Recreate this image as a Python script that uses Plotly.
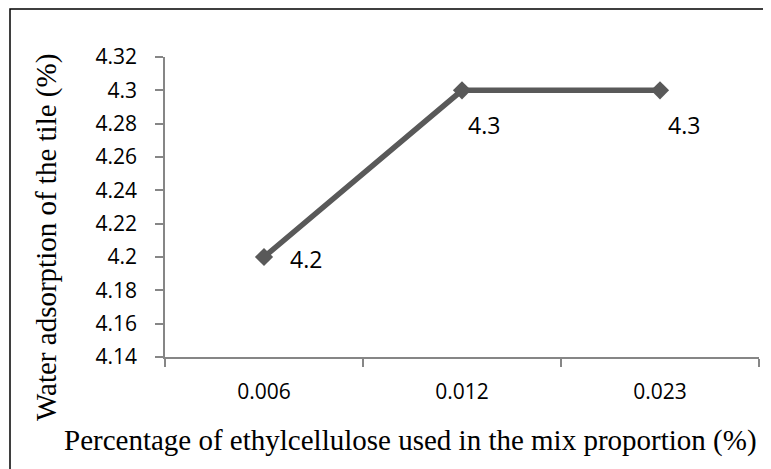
import plotly.graph_objects as go

categories = ["0.006", "0.012", "0.023"]
water_adsorption = [4.2, 4.3, 4.3]
label_text = ["4.2", "4.3", "4.3"]
y_tick_vals = [4.14, 4.16, 4.18, 4.20, 4.22, 4.24, 4.26, 4.28, 4.30, 4.32]
y_tick_text = ["4.14", "4.16", "4.18", "4.2", "4.22", "4.24", "4.26", "4.28", "4.3", "4.32"]
x_title = "Percentage of ethylcellulose used in the mix proportion (%)"
y_title = "Water adsorption of the tile (%)"

label_shifts = [(42, -2), (22, -35), (24, -35)]

fig = go.Figure()
fig.add_trace(go.Scatter(
    x=categories, y=water_adsorption, mode="lines+markers",
    line=dict(color="#595959", width=5.5),
    marker=dict(symbol="diamond", size=14, color="#595959"),
    showlegend=False, hoverinfo="skip"))

for i, (v, t, (dx, dy)) in enumerate(zip(water_adsorption, label_text, label_shifts)):
    fig.add_annotation(x=i, y=v, text=t, showarrow=False, xshift=dx, yshift=dy,
                       font=dict(family="Open Sans", size=23, color="#000000"))

tick_font = dict(family="Open Sans", size=21, color="#000000")
fig.update_xaxes(type="category", range=[-0.5, 2.5], showline=True, linecolor="#868686",
                 linewidth=1.5, ticks="outside", ticklen=8, tickcolor="#868686", tickwidth=1.5,
                 tickson="boundaries", showgrid=False, zeroline=False, tickfont=tick_font,
                 ticklabelstandoff=15)
fig.update_yaxes(range=[4.14, 4.32], tickvals=y_tick_vals, ticktext=y_tick_text,
                 showline=True, linecolor="#868686", linewidth=1.5, ticks="outside",
                 ticklen=8, tickcolor="#868686", tickwidth=1.5, showgrid=False,
                 zeroline=False, tickfont=tick_font, ticklabelstandoff=14)

serif = dict(family="Liberation Serif", size=29, color="#000000")
fig.add_annotation(xref="paper", yref="paper", x=(410 - 165) / 594, y=(357 - 440) / 300,
                   text=x_title, showarrow=False, font=serif, xanchor="center", yanchor="middle")
fig.add_annotation(xref="paper", yref="paper", x=(47 - 165) / 594, y=(357 - 238) / 300,
                   text=y_title, showarrow=False, font=serif, textangle=-90,
                   xanchor="center", yanchor="middle")

fig.add_shape(type="rect", xref="paper", yref="paper",
              x0=(10 - 165) / 594, x1=(790 - 165) / 594,
              y0=(357 - 490) / 300, y1=(357 - 9) / 300,
              line=dict(color="#000000", width=1.5), layer="below")

fig.update_layout(width=763, height=461, margin=dict(l=157, r=12, t=49, b=112),
                  plot_bgcolor="white", paper_bgcolor="white")
fig.write_html("out.html")
